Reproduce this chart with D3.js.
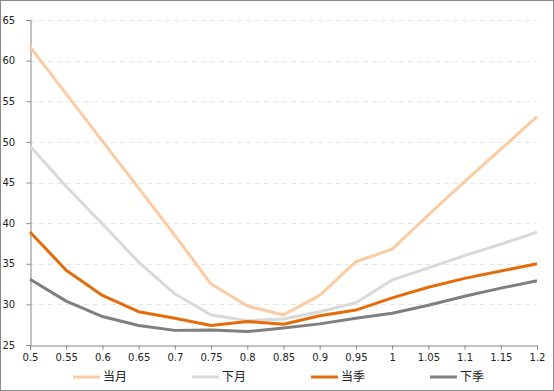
<!DOCTYPE html>
<html>
<head>
<meta charset="utf-8">
<script src="https://cdn.jsdelivr.net/npm/d3@7"></script>
<style>
  body { margin: 0; background: #fff; }
  svg { display: block; }
</style>
</head>
<body>
<div id="chart"></div>
<script>
// x categories and the four series
const xValues = [0.5, 0.55, 0.6, 0.65, 0.7, 0.75, 0.8, 0.85, 0.9, 0.95, 1, 1.05, 1.1, 1.15, 1.2];
const xLabels = ["0.5", "0.55", "0.6", "0.65", "0.7", "0.75", "0.8", "0.85", "0.9", "0.95", "1", "1.05", "1.1", "1.15", "1.2"];
const seriesNames = ["当月", "下月", "当季", "下季"];
const currentMonth = [61.7, 55.9, 50.1, 44.3, 38.5, 32.5, 29.8, 28.7, 31.1, 35.25, 36.8, 41.0, 45.1, 49.1, 53.1];
const nextMonth = [49.5, 44.5, 39.9, 35.2, 31.3, 28.7, 28.0, 28.2, 29.1, 30.2, 33.0, 34.5, 36.0, 37.4, 38.9];
const currentQuarter = [38.9, 34.2, 31.1, 29.1, 28.3, 27.4, 27.9, 27.55, 28.6, 29.3, 30.8, 32.1, 33.2, 34.1, 35.0];
const nextQuarter = [33.1, 30.4, 28.5, 27.4, 26.8, 26.85, 26.65, 27.1, 27.6, 28.3, 28.9, 29.9, 31.0, 32.0, 32.9];
const yTicks = [25, 30, 35, 40, 45, 50, 55, 60, 65];

const colors = ["#fbcba2", "#d9d9d9", "#e46c0a", "#7f7f7f"];
const allSeries = [currentMonth, nextMonth, currentQuarter, nextQuarter];

const width = 554, height = 391;
const margin = {left: 30, right: 17, top: 20, bottom: 46};

const svg = d3.select("#chart").append("svg")
    .attr("width", width)
    .attr("height", height);

// outer frame
svg.append("rect")
    .attr("x", 0.5).attr("y", 0.5)
    .attr("width", width - 1).attr("height", height - 1)
    .attr("fill", "#fff")
    .attr("stroke", "#888");

const x = d3.scaleLinear()
    .domain([0.5, 1.2])
    .range([margin.left, width - margin.right]);

const y = d3.scaleLinear()
    .domain([25, 65])
    .range([height - margin.bottom, margin.top]);

// dashed grid
svg.append("g")
    .selectAll("line")
    .data(yTicks.filter(t => t > 25))
    .enter().append("line")
    .attr("x1", x(0.5)).attr("x2", x(1.2))
    .attr("y1", d => Math.round(y(d)) + 0.5)
    .attr("y2", d => Math.round(y(d)) + 0.5)
    .attr("stroke", "#e6e6e6")
    .attr("stroke-dasharray", "5,4");

// axes
const yAxis = svg.append("g")
    .attr("transform", "translate(" + (x(0.5) + 0.5) + ",0)")
    .call(d3.axisLeft(y).tickValues(yTicks).tickSize(4).tickPadding(10).tickFormat(d3.format("d")));

const xAxis = svg.append("g")
    .attr("transform", "translate(0," + (Math.round(y(25)) + 0.5) + ")")
    .call(d3.axisBottom(x).tickValues(xValues).tickSize(4).tickPadding(4)
        .tickFormat((d, i) => xLabels[i]));

[yAxis, xAxis].forEach(a => {
    a.select(".domain").attr("stroke", "#868686");
    a.selectAll(".tick line").attr("stroke", "#868686");
    a.selectAll("text")
        .attr("fill", "#222")
        .style("font-family", "'DejaVu Sans', Verdana, sans-serif")
        .style("font-size", "10px");
});
yAxis.selectAll("text").attr("text-anchor", "start").attr("x", -28);

// series lines
const line = d3.line()
    .x((d, i) => x(xValues[i]))
    .y(d => y(d));

svg.append("g")
    .selectAll("path")
    .data(allSeries)
    .enter().append("path")
    .attr("d", line)
    .attr("fill", "none")
    .attr("stroke", (d, i) => colors[i])
    .attr("stroke-width", 3)
    .attr("stroke-linejoin", "round");

// legend
const legendX = [73, 192, 311, 430];
const legend = svg.append("g")
    .selectAll("g")
    .data(seriesNames)
    .enter().append("g")
    .attr("transform", (d, i) => "translate(" + legendX[i] + ",377)");

legend.append("line")
    .attr("x1", 0).attr("x2", 27)
    .attr("stroke", (d, i) => colors[i])
    .attr("stroke-width", 3);

legend.append("text")
    .attr("x", 30)
    .attr("dy", "0.36em")
    .style("font-family", "'Noto Sans CJK SC', sans-serif")
    .style("font-size", "12px")
    .attr("fill", "#222")
    .text(d => d);
</script>
</body>
</html>
